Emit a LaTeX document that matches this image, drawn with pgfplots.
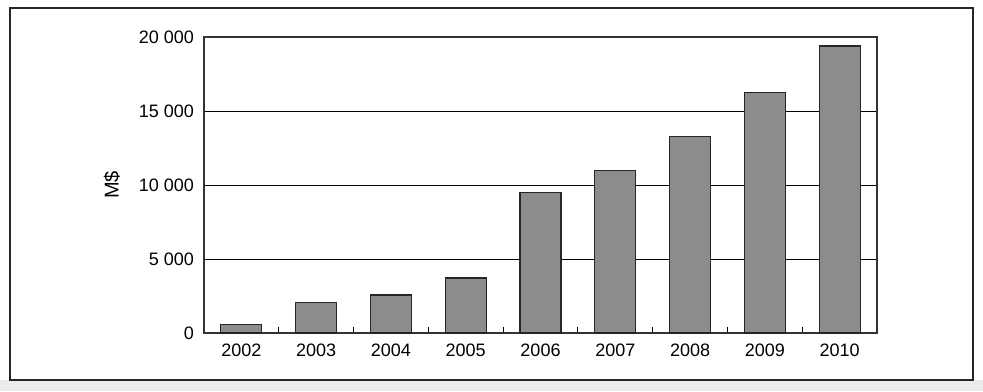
\documentclass[border=0pt]{standalone}
\usepackage{pgfplots}
\pgfplotsset{compat=1.18}
\usepackage{fontspec}
\setmainfont{Liberation Sans}
\begin{document}
\begin{tikzpicture}
\useasboundingbox (0,0) rectangle (491.5pt,195.5pt);
\fill[black!8] (0,0) rectangle (491.5pt,5.5pt);
\fill[white] (5pt,5.5pt) rectangle (486.5pt,191.5pt);
\draw[line width=1.2pt, black!85] (5pt,5.5pt) rectangle (486.5pt,191.5pt);
\begin{axis}[
  at={(102pt,29pt)}, anchor=south west,
  scale only axis, width=336.5pt, height=148pt,
  font=\fontsize{9}{10}\selectfont,
  xmin=-0.5, xmax=8.5, ymin=0, ymax=20000,
  xtick={0,...,8},
  xticklabels={2002,2003,2004,2005,2006,2007,2008,2009,2010},
  minor xtick={0.5,1.5,...,7.5},
  xtick pos=bottom, ytick pos=left,
  major tick length=0pt,
  minor tick length=3pt,
  tick align=inside,
  ytick={0,5000,10000,15000,20000},
  ymajorgrids,
  grid style={black, line width=0.5pt},
  axis line style={black!80, line width=0.6pt},
  tick style={black, line width=0.6pt},
  scaled y ticks=false,
  /pgf/number format/assume math mode=true,
  /pgf/number format/1000 sep={\ },
  yticklabel style={xshift=-1.5pt},
  xticklabel style={yshift=-2pt},
  ylabel={M\$},
  ylabel style={at={(axis description cs:-0.137,0.5)}, anchor=center, font=\fontsize{10}{11}\selectfont},
]
\addplot[ybar, bar width=20.5pt, fill=black!45, draw=black!85, line width=0.6pt]
 coordinates {(0,590) (1,2050) (2,2570) (3,3720) (4,9500) (5,10970) (6,13270) (7,16260) (8,19390)};
\end{axis}
\end{tikzpicture}
\end{document}
